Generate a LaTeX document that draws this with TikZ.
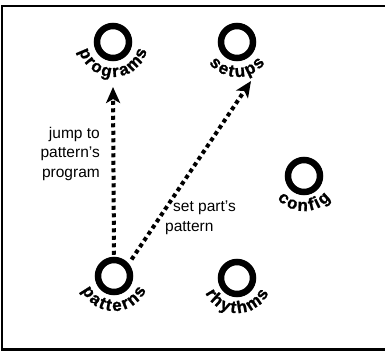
\documentclass[tikz,border=0pt]{standalone}
\usepackage{fontspec}
\setmainfont{Liberation Sans}
\newfontfamily\heavyfont[BoldFeatures={FakeBold=1.2}]{Liberation Sans}
\usetikzlibrary{decorations.text,arrows.meta}
\newcommand\arcfont{\heavyfont\fontsize{17}{17}\selectfont\bfseries}
\begin{document}
\begin{tikzpicture}[x=1pt,y=1pt,
  hub/.style={circle, draw, line width=6.5pt, minimum size=32pt, inner sep=0pt},
  dotarrow/.style={line width=4pt, dash pattern=on 4pt off 3.5pt,
    -{Stealth[length=16pt,width=14pt,inset=4pt]}},
  lbl/.style={font=\fontsize{15.5}{19.5}\selectfont, inner sep=0pt},
  arclabel/.style={decoration={text effects along path,
    text={#1}, text align=center,
    text effects/.cd, text along path, characters={font=\arcfont, inner xsep=1pt, inner ysep=0pt}}, decorate}
]
\useasboundingbox (0,0) rectangle (385,-351);
\draw[line width=2.5pt] (385,-6) -- (2,-6) -- (2,-349.5) -- (385,-349.5);

\node[hub] (prog) at (113,-42) {};
\node[hub] (setp) at (237,-42) {};
\node[hub] (conf) at (304,-176) {};
\node[hub] (patt) at (114,-276) {};
\node[hub] (rhyt) at (237,-278) {};

\path[arclabel=programs] ([shift={(180:35)}]prog.center) arc[start angle=180,end angle=360,radius=35];
\path[arclabel=setups]   ([shift={(180:35)}]setp.center) arc[start angle=180,end angle=360,radius=35];
\path[arclabel=config]   ([shift={(180:35)}]conf.center) arc[start angle=180,end angle=360,radius=35];
\path[arclabel=patterns] ([shift={(180:35)}]patt.center) arc[start angle=180,end angle=360,radius=35];
\path[arclabel=rhythms]  ([shift={(180:35)}]rhyt.center) arc[start angle=180,end angle=360,radius=35];

\coordinate (progtip) at (113,-87);
\coordinate (setptip) at (251,-81);
\draw[dotarrow, shorten <=2pt] (patt.north) -- (progtip);
\draw[dotarrow, shorten <=5pt] (patt.40) -- (setptip);

\node[lbl, align=right, anchor=north east] (jl) at (100,-127) {jump to\\pattern's\\program};
\node[lbl, align=left, anchor=north west] (sl) at (165,-201) {\hspace{8pt}set part's\\pattern};
\end{tikzpicture}
\end{document}
